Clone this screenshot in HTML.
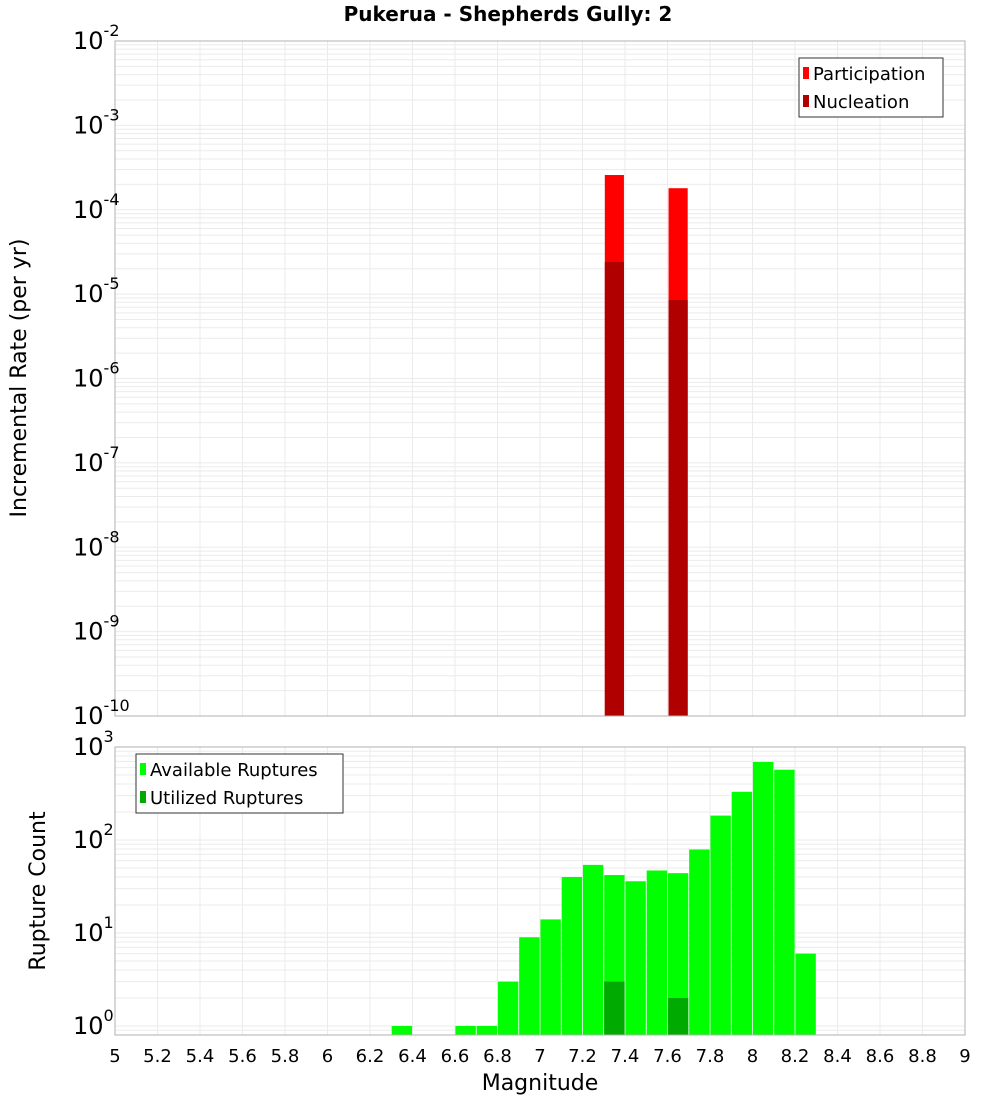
<!DOCTYPE html>
<html><head><meta charset="utf-8"><style>
body{margin:0;background:#fff;}
svg{display:block;font-family:"DejaVu Sans","Liberation Sans",sans-serif;}
</style></head><body>
<svg id="c" width="1000" height="1100" xmlns="http://www.w3.org/2000/svg">
<text x="508" y="21" text-anchor="middle" font-size="20" font-weight="bold">Pukerua - Shepherds Gully: 2</text>
<text transform="translate(26,378) rotate(-90)" text-anchor="middle" font-size="22">Incremental Rate (per yr)</text>
<text transform="translate(45,891) rotate(-90)" text-anchor="middle" font-size="22">Rupture Count</text>
<text x="540" y="1090" text-anchor="middle" font-size="22">Magnitude</text>
<g id="g"></g>
</svg>
<script>
const partMags=[7.35,7.65];
const partVals=[2.58e-4,1.8e-4];
const nuclMags=[7.35,7.65];
const nuclVals=[2.4e-5,8.5e-6];
const availMags=[6.35,6.65,6.75,6.85,6.95,7.05,7.15,7.25,7.35,7.45,7.55,7.65,7.75,7.85,7.95,8.05,8.15,8.25];
const availVals=[1,1,1,3,9,14,40,54,42,36,47,44,79,183,330,690,570,6];
const utilMags=[7.35,7.65];
const utilVals=[3,2];
const xTicks=[5,5.2,5.4,5.6,5.8,6,6.2,6.4,6.6,6.8,7,7.2,7.4,7.6,7.8,8,8.2,8.4,8.6,8.8,9];
const topExps=[-2,-3,-4,-5,-6,-7,-8,-9,-10];
const botExps=[3,2,1,0];

const NS="http://www.w3.org/2000/svg";
const g=document.getElementById('g');
const L=115,R=965;
function x(m){return L+(m-5)/4*(R-L);}
const T1=41,B1=716,T2=747,B2=1035;
function yTop(v){return T1+(-2-Math.log10(v))/8*(B1-T1);}
const botMin=0.8,botMax=1000;
function yBot(v){return T2+(Math.log10(botMax)-Math.log10(v))/(Math.log10(botMax)-Math.log10(botMin))*(B2-T2);}
function el(t,a,p){const e=document.createElementNS(NS,t);for(const k in a)e.setAttribute(k,a[k]);(p||g).appendChild(e);return e;}

// Grid
function grid(T,B,yf,lo,hi){
  const gg=el('g',{});
  
  
  for(let e=lo;e<hi;e++)for(let k=1;k<10;k++){const v=k*Math.pow(10,e);const yy=yf(v);if(yy<T||yy>B)continue;
    el('line',{x1:L,x2:R,y1:yy,y2:yy,stroke:'#ebebeb','stroke-width':1},gg);}
  xTicks.forEach(t=>el('line',{x1:x(t),x2:x(t),y1:T,y2:B,stroke:'#ebebeb','stroke-width':1},gg));
}
grid(T1,B1,yTop,-10,-1);
grid(T2,B2,yBot,-1,4);

// Top bars
partMags.forEach((m,i)=>{const r=el('rect',{x:x(m-0.045),y:yTop(partVals[i]),width:x(m+0.045)-x(m-0.045),height:B1-yTop(partVals[i]),fill:'#ff0000'});
  
  });
nuclMags.forEach((m,i)=>{const r=el('rect',{x:x(m-0.045),y:yTop(nuclVals[i]),width:x(m+0.045)-x(m-0.045),height:B1-yTop(nuclVals[i]),fill:'#b00000'});
  
  });
// Bottom bars
availMags.forEach((m,i)=>{const r=el('rect',{x:x(m-0.048),y:yBot(availVals[i]),width:x(m+0.048)-x(m-0.048),height:B2-yBot(availVals[i]),fill:'#00ff00'});
  
  });
utilMags.forEach((m,i)=>{const r=el('rect',{x:x(m-0.048),y:yBot(utilVals[i]),width:x(m+0.048)-x(m-0.048),height:B2-yBot(utilVals[i]),fill:'#00aa00'});
  
  });

// Frames
const f1=el('rect',{x:L,y:T1,width:R-L,height:B1-T1,fill:'none',stroke:'#b0b0b0'});


const f2=el('rect',{x:L,y:T2,width:R-L,height:B2-T2,fill:'none',stroke:'#b0b0b0'});



// Y tick labels
function ylab(yy,e){const t=el('text',{x:73,y:yy+8,'font-size':24});
  
  
  t.textContent='10';
  const s=el('tspan',{dy:-13,'font-size':16},t);s.textContent=String(e);}
topExps.forEach(e=>ylab(yTop(Math.pow(10,e)),e));
botExps.forEach(e=>ylab(yBot(Math.pow(10,e)),e));
// X tick labels
xTicks.forEach(t=>{const tx=el('text',{x:x(t),y:1062,'text-anchor':'middle','font-size':18});
  
  
  tx.textContent=String(t);});

// Legends
function legend(x0,y0,w,items,name){const lg=el('g',{});
  
  
  el('rect',{x:x0,y:y0,width:w,height:59,fill:'#fff',stroke:'#333'},lg);
  items.forEach((it,i)=>{el('rect',{x:x0+4,y:y0+9+i*28,width:6,height:12,fill:it[1]},lg);
    const t=el('text',{x:x0+14,y:y0+22+i*28,'font-size':18},lg);t.textContent=it[0];});}
legend(799,58,144,[['Participation','#ff0000'],['Nucleation','#b00000']],'top-legend');
legend(136,754,207,[['Available Ruptures','#00ff00'],['Utilized Ruptures','#00aa00']],'bottom-legend');
</script>
</body></html>
